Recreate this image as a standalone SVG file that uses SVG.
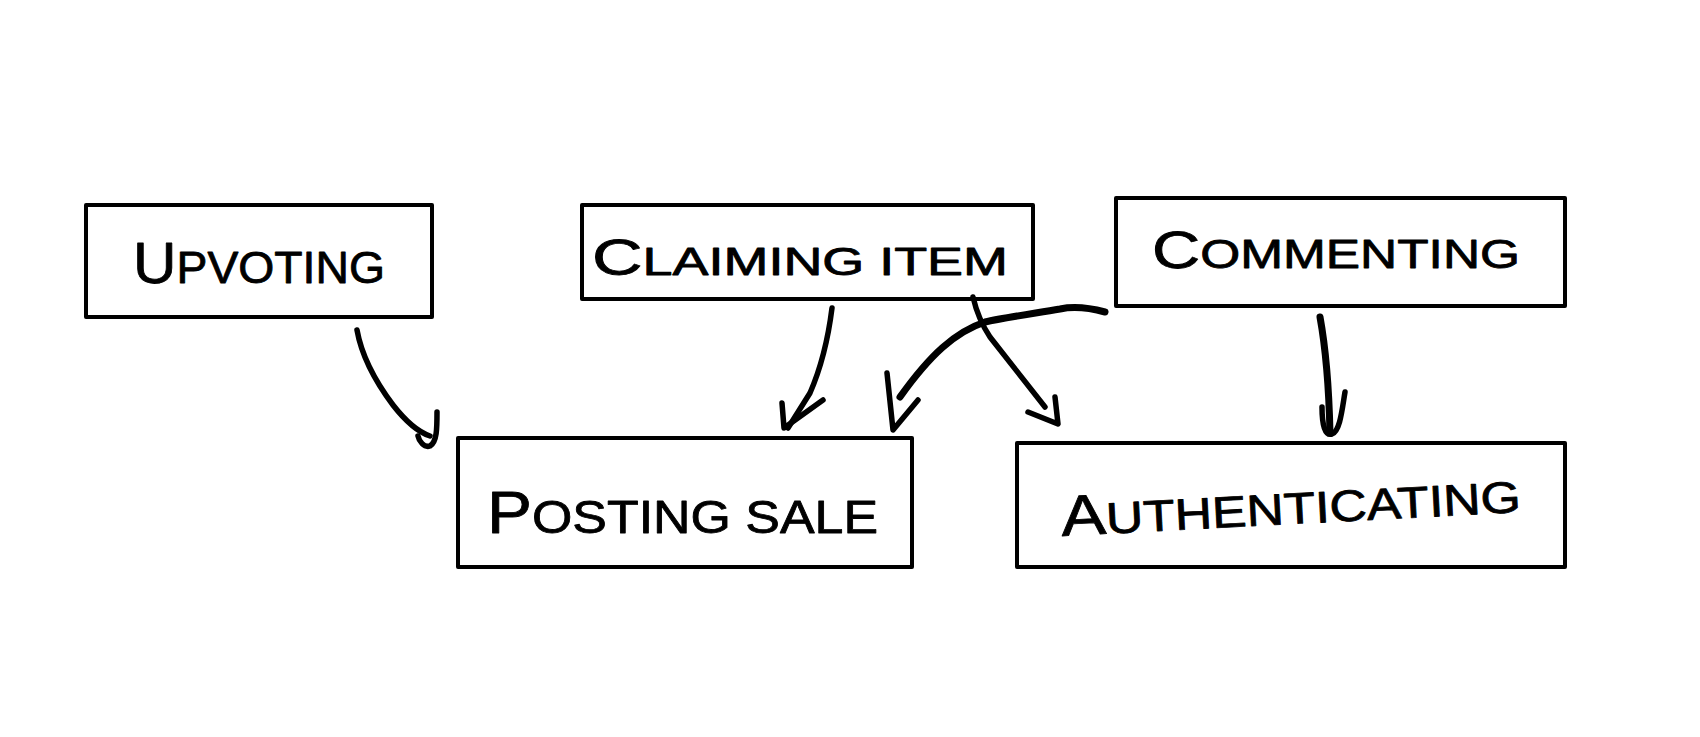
<svg xmlns="http://www.w3.org/2000/svg" width="1700" height="737" viewBox="0 0 1700 737">
<style>
.box{fill:#fff;stroke:#000;stroke-width:4;stroke-linejoin:round}
.lbl{font-family:"Liberation Sans","DejaVu Sans",sans-serif;fill:#000;stroke:#000;stroke-width:0.8;stroke-linejoin:round}
.big{font-size:1.3em}
.ln{fill:none;stroke:#000;stroke-width:5.5;stroke-linecap:round;stroke-linejoin:round}
.thick{stroke-width:7}
</style>
<rect width="1700" height="737" fill="#fff"/>
<g id="upvoting">
<rect class="box" x="86" y="205" width="346" height="112"/>
<text class="lbl" x="133" y="283" font-size="44" textLength="252" lengthAdjust="spacingAndGlyphs"><tspan class="big">U</tspan>PVOTING</text>
</g>
<g id="claiming-item">
<rect class="box" x="582" y="205" width="451" height="94"/>
<text class="lbl" x="592" y="275" font-size="38" textLength="416" lengthAdjust="spacingAndGlyphs"><tspan class="big">C</tspan>LAIMING ITEM</text>
</g>
<g id="commenting">
<rect class="box" x="1116" y="198" width="449" height="108"/>
<text class="lbl" x="1152" y="268" font-size="40" textLength="368" lengthAdjust="spacingAndGlyphs"><tspan class="big">C</tspan>OMMENTING</text>
</g>
<g id="posting-sale">
<rect class="box" x="458" y="438" width="454" height="129"/>
<text class="lbl" x="487" y="533" font-size="46" textLength="391" lengthAdjust="spacingAndGlyphs"><tspan class="big">P</tspan>OSTING  SALE</text>
</g>
<g id="authenticating">
<rect class="box" x="1017" y="443" width="548" height="124"/>
<text class="lbl" x="1062" y="536" font-size="44" textLength="460" lengthAdjust="spacingAndGlyphs" transform="rotate(-3 1062 536)"><tspan class="big">A</tspan>UTHENTICATING</text>
</g>
<g id="connectors">
<path class="ln" d="M357,330 C362,358 378,385 393,405 C407,423 418,432 430,436"/>
<path class="ln" d="M437,412 C437,428 437,442 430,446 C424,448 419,441 418,436"/>
<path class="ln" d="M832,308 C828,340 820,370 810,393 L788,428"/>
<path class="ln" d="M782,403 L784,428 L823,400"/>
<path class="ln thick" d="M1105,312 C1090,308 1075,306 1060,309 C1030,314 1002,318 985,322 C955,332 930,355 900,397"/>
<path class="ln" d="M887,373 L893,430 L918,400"/>
<path class="ln" d="M973,297 C976,310 980,322 990,337 L1045,407"/>
<path class="ln" d="M1028,412 L1058,424 L1055,397"/>
<path class="ln thick" d="M1320,317 C1326,350 1329,390 1330,433"/>
<path class="ln" d="M1322,407 C1322,425 1325,436 1332,434 C1340,431 1342,410 1345,392"/>
</g>
</svg>
